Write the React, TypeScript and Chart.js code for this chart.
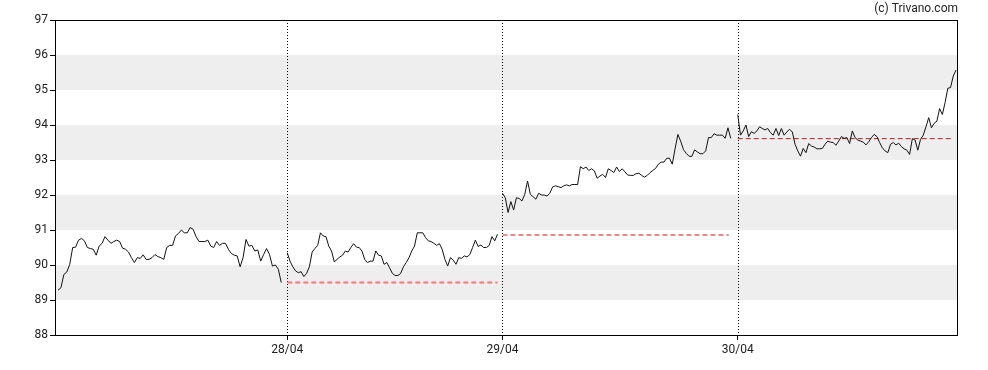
import React, { useEffect, useRef } from "react";
import { Chart, registerables } from "chart.js";

Chart.register(...registerables);

// Time axis in session slots (0 .. 901); day separators at the ticks
const tickSlots = [232, 447, 682];
const tickLabels = ["28/04", "29/04", "30/04"];
const axisMaxSlot = 901;

const yTicks = [88, 89, 90, 91, 92, 93, 94, 95, 96, 97];
const bandRanges = [[89, 90], [91, 92], [93, 94], [95, 96]];

// Day sessions: first and last slot of each day
const dayStartSlots = [3, 232, 447, 682];
const dayEndSlots = [226, 442, 675, 900];

const day1 = [
  89.28, 89.35, 89.73, 89.8, 90.02, 90.5, 90.51, 90.71, 90.76, 90.69, 90.5, 90.47, 90.45, 90.28, 90.54,
  90.62, 90.81, 90.71, 90.62, 90.67, 90.71, 90.67, 90.48, 90.45, 90.37, 90.21, 90.07, 90.21, 90.19, 90.29,
  90.16, 90.16, 90.21, 90.3, 90.24, 90.21, 90.16, 90.5, 90.56, 90.56, 90.83, 90.9, 91.0, 90.92, 90.92,
  91.07, 91.02, 90.81, 90.67, 90.67, 90.67, 90.71, 90.54, 90.5, 90.67, 90.56, 90.62, 90.62, 90.45, 90.33,
  90.28, 90.26, 89.95, 90.21, 90.73, 90.54, 90.56, 90.4, 90.43, 90.11, 90.3, 90.47, 90.3, 89.97, 90.0,
  89.88, 89.5,
];

const day2 = [
  90.35, 90.11, 89.95, 89.83, 89.78, 89.81, 89.67, 89.76, 89.95, 90.37, 90.47, 90.56, 90.92, 90.83, 90.81,
  90.54, 90.4, 90.09, 90.16, 90.23, 90.28, 90.4, 90.37, 90.5, 90.61, 90.51, 90.5, 90.4, 90.16, 90.07,
  90.11, 90.11, 90.4, 90.28, 90.26, 90.02, 90.07, 89.92, 89.76, 89.7, 89.7, 89.76, 89.95, 90.07, 90.21,
  90.4, 90.54, 90.92, 90.92, 90.92, 90.78, 90.69, 90.67, 90.62, 90.56, 90.61, 90.45, 90.16, 89.97, 90.21,
  90.14, 90.02, 90.21, 90.19, 90.26, 90.23, 90.3, 90.5, 90.71, 90.53, 90.57, 90.5, 90.5, 90.56, 90.81,
  90.69, 90.88,
];

const day3 = [
  92.05, 91.92, 91.5, 91.81, 91.57, 91.92, 91.9, 91.83, 92.02, 92.4, 92.02, 91.95, 91.88, 92.05, 92.0,
  92.0, 91.97, 92.05, 92.23, 92.26, 92.24, 92.21, 92.26, 92.29, 92.26, 92.3, 92.3, 92.3, 92.81, 92.75,
  92.8, 92.7, 92.75, 92.69, 92.48, 92.54, 92.59, 92.5, 92.75, 92.7, 92.64, 92.8, 92.67, 92.75, 92.66,
  92.57, 92.56, 92.56, 92.61, 92.62, 92.56, 92.51, 92.56, 92.64, 92.7, 92.76, 92.88, 92.94, 92.94, 93.05,
  93.05, 92.88, 93.32, 93.73, 93.54, 93.3, 93.19, 93.11, 93.1, 93.29, 93.23, 93.18, 93.18, 93.26, 93.64,
  93.64, 93.75, 93.71, 93.71, 93.71, 93.62, 93.92, 93.62,
];

const day4 = [
  94.3, 93.71, 93.83, 94.0, 93.67, 93.81, 93.76, 93.83, 93.95, 93.9, 93.86, 93.9, 93.78, 93.71, 93.9,
  93.7, 93.9, 93.71, 93.8, 93.88, 93.8, 93.45, 93.26, 93.11, 93.33, 93.21, 93.47, 93.4, 93.37, 93.32,
  93.32, 93.33, 93.45, 93.54, 93.51, 93.5, 93.42, 93.54, 93.67, 93.62, 93.64, 93.47, 93.83, 93.64, 93.57,
  93.54, 93.51, 93.43, 93.52, 93.64, 93.73, 93.67, 93.5, 93.35, 93.26, 93.21, 93.45, 93.5, 93.43, 93.48,
  93.38, 93.32, 93.28, 93.16, 93.61, 93.57, 93.28, 93.59, 93.71, 93.95, 94.21, 93.92, 94.05, 94.11, 94.47,
  94.3, 94.64, 95.05, 95.07, 95.4, 95.57,
];

// Previous close reference lines: [startSlot, endSlot, value]
const refStart = [232, 447, 682];
const refEnd = [442, 673, 897];
const refValues = [89.5, 90.86, 93.61];
const refColors = ["#f27878", "#f06060", "#b02020"];
const refWidths = [1.8, 1.5, 1];

const days = [day1, day2, day3, day4];

function toPoints(values: number[], start: number, end: number) {
  const step = (end - start) / (values.length - 1);
  return values.map((v, i) => ({ x: start + i * step, y: v }));
}

const framePlugin = {
  id: "frameBands",
  beforeDatasetsDraw(chart: any) {
    const { ctx, chartArea, scales } = chart;
    const y = scales.y;
    ctx.save();
    ctx.fillStyle = "#eeeeee";
    bandRanges.forEach(([lo, hi]) => {
      const top = y.getPixelForValue(hi);
      const bot = y.getPixelForValue(lo);
      ctx.fillRect(chartArea.left, top, chartArea.right - chartArea.left, bot - top);
    });
    // dotted day separators
    ctx.strokeStyle = "#000";
    ctx.lineWidth = 1;
    ctx.setLineDash([1, 2]);
    tickSlots.forEach((t) => {
      const px = Math.round(scales.x.getPixelForValue(t)) + 0.5;
      ctx.beginPath();
      ctx.moveTo(px, chartArea.top);
      ctx.lineTo(px, chartArea.bottom);
      ctx.stroke();
    });
    ctx.restore();
  },
  afterDraw(chart: any) {
    const { ctx, chartArea } = chart;
    ctx.save();
    ctx.strokeStyle = "#000";
    ctx.lineWidth = 1;
    ctx.setLineDash([]);
    ctx.strokeRect(chartArea.left + 0.5, chartArea.top + 0.5, chartArea.right - chartArea.left, chartArea.bottom - chartArea.top);
    ctx.fillStyle = "#222";
    ctx.font = "12px Roboto";
    ctx.textAlign = "right";
    ctx.textBaseline = "middle";
    ctx.fillText("(c) Trivano.com", chartArea.right + 1, 9);
    ctx.restore();
  },
};

export default function App() {
  const ref = useRef<HTMLCanvasElement>(null);
  useEffect(() => {
    const datasets: any[] = days.map((d, i) => ({
      data: toPoints(d, dayStartSlots[i], dayEndSlots[i]),
      borderColor: "#111",
      borderWidth: 1,
      pointRadius: 0,
      tension: 0,
    }));
    refValues.forEach((v, i) => {
      datasets.push({
        data: [
          { x: refStart[i], y: v },
          { x: refEnd[i], y: v },
        ],
        borderColor: refColors[i],
        borderWidth: refWidths[i],
        borderDash: [5, 3],
        pointRadius: 0,
      });
    });
    const chart = new Chart(ref.current!, {
      type: "line",
      data: { datasets },
      plugins: [framePlugin],
      options: {
        animation: false,
        responsive: false,
        layout: { padding: { left: 0, right: 31, top: 20, bottom: 0 } },
        plugins: { legend: { display: false }, tooltip: { enabled: false } },
        scales: {
          x: {
            type: "linear",
            min: 0,
            max: axisMaxSlot,
            afterBuildTicks: (s: any) => {
              s.ticks = tickSlots.map((v) => ({ value: v }));
            },
            afterFit: (s: any) => {
              s.height = 35;
            },
            ticks: {
              autoSkip: false,
              maxRotation: 0,
              padding: 3,
              color: "#222",
              font: { family: "Roboto", size: 12 },
              callback: (v: any) => {
                const idx = tickSlots.indexOf(Number(v));
                return idx >= 0 ? tickLabels[idx] : "";
              },
            },
            grid: {
              color: "#000",
              lineWidth: 1,
              tickLength: 5,
              drawOnChartArea: false,
            },
            border: { display: true, color: "#000" },
          },
          y: {
            type: "linear",
            min: 88,
            max: 97,
            afterBuildTicks: (s: any) => {
              s.ticks = yTicks.map((v) => ({ value: v }));
            },
            afterFit: (s: any) => {
              s.width = 55;
            },
            ticks: {
              padding: 2,
              color: "#222",
              font: { family: "Roboto", size: 12 },
            },
            grid: { drawOnChartArea: false, color: "#000", tickLength: 5 },
            border: { display: true, color: "#000" },
          },
        },
      },
    });
    return () => chart.destroy();
  }, []);
  return (
    <div style={{ position: "absolute", left: 0, top: 0, width: 988, height: 370, background: "#fff" }}>
      <canvas ref={ref} width={988} height={370} />
    </div>
  );
}
